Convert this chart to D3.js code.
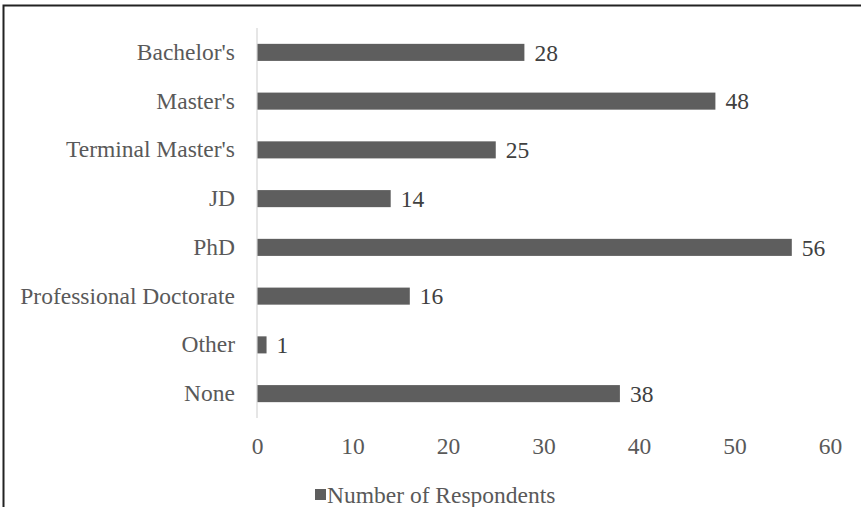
<!DOCTYPE html>
<html>
<head>
<meta charset="utf-8">
<script src="https://cdn.jsdelivr.net/npm/d3@7"></script>
<style>
  html, body { margin: 0; padding: 0; background: #fff; overflow: hidden; }
  svg { display: block; }
</style>
</head>
<body>
<svg id="chart" width="861" height="507"></svg>
<script>
// Highest degree earned by respondents
const categories = ["Bachelor's", "Master's", "Terminal Master's", "JD", "PhD", "Professional Doctorate", "Other", "None"];
const respondents = [28, 48, 25, 14, 56, 16, 1, 38];
const xTicks = [0, 10, 20, 30, 40, 50, 60];
const seriesName = "Number of Respondents";

const W = 861, H = 507;
const svg = d3.select("#chart");
const serif = "'Liberation Serif', 'Times New Roman', serif";
const fontSize = 23.5;
const textGrey = "#595959";
const barFill = "#5e5e5e";

// Figure caption, sitting above the frame
const caption = svg.append("text")
  .attr("y", -5.5)
  .attr("font-family", "'Liberation Sans', Arial, sans-serif")
  .attr("font-weight", "bold").attr("font-size", 26)
  .attr("fill", "#000");
caption.append("tspan").attr("x", 5).text("Figure 8:");
caption.append("tspan").attr("x", 175).text("Highest Degree (N = 226)");

// Frame
svg.append("path")
  .attr("d", `M3.5,${H} L3.5,5.5 L${W},5.5`)
  .attr("fill", "none").attr("stroke", "#222").attr("stroke-width", 2);

const x = d3.scaleLinear().domain([0, 60]).range([257, 830]);
const y = d3.scaleBand().domain(categories).range([28, 418]).paddingInner(0.65).paddingOuter(0.325);

// Vertical category axis line
svg.append("line")
  .attr("x1", x(0)).attr("x2", x(0))
  .attr("y1", 28).attr("y2", 418)
  .attr("stroke", "#d9d9d9").attr("stroke-width", 1.3);

// Bars
svg.append("g").selectAll("rect").data(categories).join("rect")
  .attr("x", x(0) + 0.5)
  .attr("y", d => y(d))
  .attr("width", (d, i) => x(respondents[i]) - x(0) - 0.5)
  .attr("height", y.bandwidth())
  .attr("fill", barFill);

// Value labels
svg.append("g").selectAll("text").data(categories).join("text")
  .attr("x", (d, i) => x(respondents[i]) + 10)
  .attr("y", d => y(d) + y.bandwidth() / 2)
  .attr("dy", "0.35em")
  .attr("font-family", serif).attr("font-size", fontSize)
  .attr("fill", "#404040")
  .text((d, i) => respondents[i]);

// Category labels
const yAxis = d3.axisLeft(y).tickSize(0).tickPadding(22);
const gy = svg.append("g").attr("transform", `translate(${x(0)},0)`).call(yAxis);
gy.select(".domain").remove();
gy.selectAll("text").attr("font-family", serif).attr("font-size", fontSize).attr("fill", textGrey);

// Value axis tick labels
const xAxis = d3.axisBottom(x).tickValues(xTicks).tickSize(0).tickPadding(0);
const gx = svg.append("g").attr("transform", `translate(0,437)`).call(xAxis);
gx.select(".domain").remove();
gx.selectAll("text").attr("font-family", serif).attr("font-size", fontSize).attr("fill", textGrey);

// Legend
const legend = svg.append("g").attr("transform", "translate(315,495)");
legend.append("rect").attr("x", 0).attr("y", -6).attr("width", 11).attr("height", 11).attr("fill", barFill);
legend.append("text")
  .attr("x", 12).attr("y", 0).attr("dy", "0.35em")
  .attr("font-family", serif).attr("font-size", fontSize).attr("fill", textGrey)
  .text(seriesName);
</script>
</body>
</html>
